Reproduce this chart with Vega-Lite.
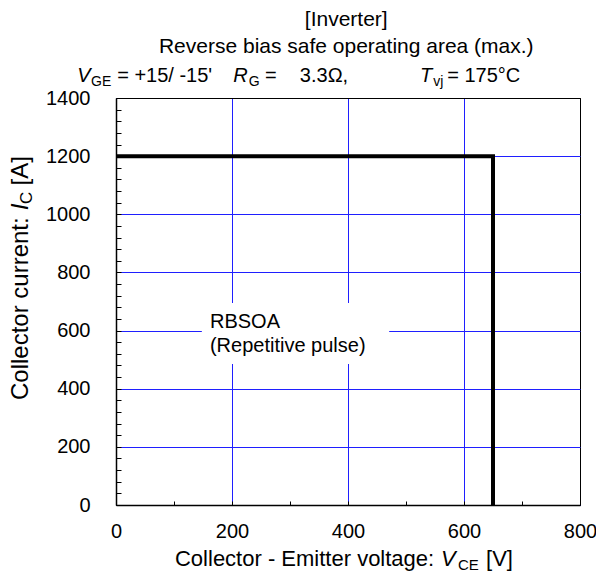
{
  "$schema": "https://vega.github.io/schema/vega-lite/v6.json",
  "width": 464,
  "height": 407,
  "autosize": {"type": "none"},
  "padding": {"left": 116, "top": 98, "right": 16, "bottom": 70},
  "background": "white",
  "config": {
    "font": "Liberation Sans",
    "view": {"stroke": "black", "strokeWidth": 1},
    "text": {"font": "Liberation Sans", "color": "black"}
  },
  "datasets": {
    "curve": [
      {"x": 0, "y": 1200, "i": 0},
      {"x": 650, "y": 1200, "i": 1},
      {"x": 650, "y": 0, "i": 2}
    ],
    "labels": [
      {"text": "[Inverter]", "x": 397, "y": 1648, "kind": "title"},
      {"text": "Reverse bias safe operating area (max.)", "x": 397, "y": 1555, "kind": "title"},
      {"text": "V", "x": -67, "y": 1455, "kind": "condI"},
      {"text": "GE", "x": -43, "y": 1441, "kind": "condS"},
      {"text": "= +15/ -15'", "x": 2, "y": 1455, "kind": "plain"},
      {"text": "R", "x": 202, "y": 1455, "kind": "condI"},
      {"text": "G", "x": 229, "y": 1441, "kind": "condS"},
      {"text": "=", "x": 257, "y": 1455, "kind": "plain"},
      {"text": "3.3Ω,", "x": 317, "y": 1455, "kind": "plain"},
      {"text": "T", "x": 524, "y": 1455, "kind": "condI"},
      {"text": "vj", "x": 547, "y": 1441, "kind": "condS"},
      {"text": "= 175°C", "x": 571, "y": 1455, "kind": "plain"},
      {"text": "RBSOA", "x": 162, "y": 609, "kind": "plain"},
      {"text": "(Repetitive pulse)", "x": 162, "y": 526, "kind": "plain"},
      {"text": "Collector - Emitter voltage:", "x": 101.7, "y": -209.8, "kind": "xt"},
      {"text": "V", "x": 560.3, "y": -209.8, "kind": "xtI"},
      {"text": "CE", "x": 589.7, "y": -223.6, "kind": "xtS"},
      {"text": "[V]", "x": 638, "y": -209.8, "kind": "xt"},
      {"text": "Collector current:", "x": -151.7, "y": 361, "kind": "yt"},
      {"text": "I", "x": -151.7, "y": 1013.5, "kind": "ytI"},
      {"text": "C", "x": -144.8, "y": 1035.5, "kind": "ytS"},
      {"text": "[A]", "x": -151.7, "y": 1099.4, "kind": "yt"}
    ],
    "box": [
      {"x": 148, "x2": 471, "y": 485, "y2": 695}
    ]
  },
  "encoding": {
    "x": {
      "field": "x",
      "type": "quantitative",
      "scale": {"domain": [0, 800], "nice": false, "zero": false},
      "axis": {
        "title": null,
        "format": "d",
        "values": [0, 100, 200, 300, 400, 500, 600, 700, 800],
        "labelExpr": "datum.value % 200 === 0 ? datum.label : ''",
        "grid": true,
        "gridColor": {"condition": {"test": "datum.value === 800", "value": "black"}, "value": "#1f1fff"},
        "gridOpacity": {"condition": {"test": "datum.value % 200 !== 0", "value": 0}, "value": 1},
        "gridWidth": 1,
        "tickSize": -4,
        "tickColor": "black",
        "labelPadding": 20,
        "labelFontSize": 20,
        "labelFont": "Liberation Sans",
        "labelColor": "black",
        "labelFlush": false,
        "labelOverlap": false,
        "domainColor": "black",
        "domainWidth": 1.5
      }
    },
    "y": {
      "field": "y",
      "type": "quantitative",
      "scale": {"domain": [0, 1400], "nice": false, "zero": false},
      "axis": {
        "title": null,
        "format": "d",
        "values": [0, 40, 80, 120, 160, 200, 240, 280, 320, 360, 400, 440, 480, 520, 560, 600, 640, 680, 720, 760, 800, 840, 880, 920, 960, 1000, 1040, 1080, 1120, 1160, 1200, 1240, 1280, 1320, 1360, 1400],
        "labelExpr": "datum.value % 200 === 0 ? datum.label : ''",
        "grid": true,
        "gridColor": {"condition": {"test": "datum.value === 1400", "value": "black"}, "value": "#1f1fff"},
        "gridOpacity": {"condition": {"test": "datum.value % 200 !== 0", "value": 0}, "value": 1},
        "gridWidth": 1,
        "tickSize": -5,
        "tickColor": "black",
        "labelPadding": 31,
        "labelFontSize": 20,
        "labelFont": "Liberation Sans",
        "labelColor": "black",
        "labelFlush": false,
        "labelOverlap": false,
        "domainColor": "black",
        "domainWidth": 1.5
      }
    }
  },
  "layer": [
    {
      "data": {"name": "box"},
      "mark": {"type": "rect", "fill": "white", "stroke": null},
      "encoding": {"x2": {"field": "x2"}, "y2": {"field": "y2"}}
    },
    {
      "data": {"name": "curve"},
      "mark": {"type": "line", "color": "black", "strokeWidth": 4, "strokeJoin": "miter", "strokeCap": "butt"},
      "encoding": {"order": {"field": "i", "type": "quantitative"}}
    },
    {
      "data": {"name": "labels"},
      "transform": [{"filter": "datum.kind === 'title'"}],
      "mark": {"type": "text", "fontSize": 21, "align": "center", "baseline": "alphabetic"},
      "encoding": {"text": {"field": "text"}}
    },
    {
      "data": {"name": "labels"},
      "transform": [{"filter": "datum.kind === 'plain'"}],
      "mark": {"type": "text", "fontSize": 20, "align": "left", "baseline": "alphabetic"},
      "encoding": {"text": {"field": "text"}}
    },
    {
      "data": {"name": "labels"},
      "transform": [{"filter": "datum.kind === 'condI'"}],
      "mark": {"type": "text", "fontSize": 20, "fontStyle": "italic", "align": "left", "baseline": "alphabetic"},
      "encoding": {"text": {"field": "text"}}
    },
    {
      "data": {"name": "labels"},
      "transform": [{"filter": "datum.kind === 'condS'"}],
      "mark": {"type": "text", "fontSize": 14, "align": "left", "baseline": "alphabetic"},
      "encoding": {"text": {"field": "text"}}
    },
    {
      "data": {"name": "labels"},
      "transform": [{"filter": "datum.kind === 'xt'"}],
      "mark": {"type": "text", "fontSize": 22, "align": "left", "baseline": "alphabetic"},
      "encoding": {"text": {"field": "text"}}
    },
    {
      "data": {"name": "labels"},
      "transform": [{"filter": "datum.kind === 'xtI'"}],
      "mark": {"type": "text", "fontSize": 22, "fontStyle": "italic", "align": "left", "baseline": "alphabetic"},
      "encoding": {"text": {"field": "text"}}
    },
    {
      "data": {"name": "labels"},
      "transform": [{"filter": "datum.kind === 'xtS'"}],
      "mark": {"type": "text", "fontSize": 15, "align": "left", "baseline": "alphabetic"},
      "encoding": {"text": {"field": "text"}}
    },
    {
      "data": {"name": "labels"},
      "transform": [{"filter": "datum.kind === 'yt'"}],
      "mark": {"type": "text", "fontSize": 24, "angle": 270, "align": "left", "baseline": "alphabetic"},
      "encoding": {"text": {"field": "text"}}
    },
    {
      "data": {"name": "labels"},
      "transform": [{"filter": "datum.kind === 'ytI'"}],
      "mark": {"type": "text", "fontSize": 24, "fontStyle": "italic", "angle": 270, "align": "left", "baseline": "alphabetic"},
      "encoding": {"text": {"field": "text"}}
    },
    {
      "data": {"name": "labels"},
      "transform": [{"filter": "datum.kind === 'ytS'"}],
      "mark": {"type": "text", "fontSize": 17, "angle": 270, "align": "left", "baseline": "alphabetic"},
      "encoding": {"text": {"field": "text"}}
    }
  ]
}
